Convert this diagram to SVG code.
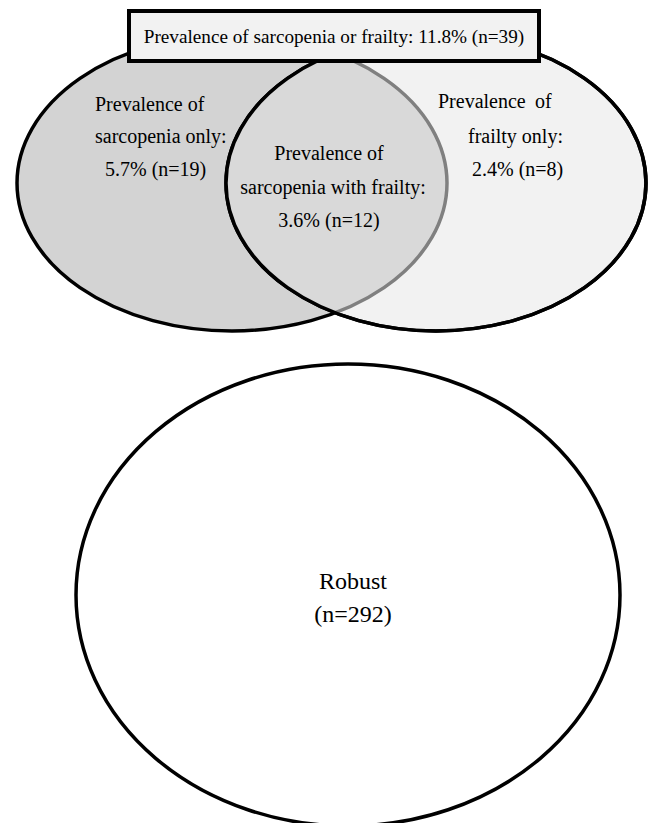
<svg xmlns="http://www.w3.org/2000/svg" width="648" height="823" viewBox="0 0 648 823">
  <style>
    text { font-family: 'Liberation Serif', 'DejaVu Serif', serif; fill: #000; }
    .s20 { font-size: 20px; }
    .edge { stroke: #000; stroke-width: 3.5; }
  </style>
  <defs>
    <clipPath id="clipRight">
      <ellipse cx="436" cy="183" rx="210" ry="148"/>
    </clipPath>
  </defs>
  <rect width="648" height="823" fill="#fff"/>

  <g id="sarcopenia">
    <ellipse cx="232" cy="183" rx="215" ry="148" fill="#d3d3d3" class="edge"/>
  </g>
  <g id="frailty">
    <ellipse cx="436" cy="183" rx="210" ry="148" fill="#f2f2f2" class="edge"/>
  </g>
  <g id="overlap">
    <ellipse cx="232" cy="183" rx="215" ry="148" fill="#d9d9d9" stroke="#808080" stroke-width="3.5" clip-path="url(#clipRight)"/>
    <ellipse cx="436" cy="183" rx="210" ry="148" fill="none" class="edge"/>
  </g>

  <g id="sarcopenia-only-label" class="s20" font-family="Liberation Serif, serif">
    <text x="95" y="111">Prevalence of</text>
    <text x="95" y="143">sarcopenia only:</text>
    <text x="105" y="176">5.7% (n=19)</text>
  </g>
  <g id="both-label" class="s20" text-anchor="middle" font-family="Liberation Serif, serif">
    <text x="329" y="160">Prevalence of</text>
    <text x="333" y="194">sarcopenia with frailty:</text>
    <text x="329" y="227">3.6% (n=12)</text>
  </g>
  <g id="frailty-only-label" class="s20" font-family="Liberation Serif, serif">
    <text x="438" y="108">Prevalence</text>
    <text x="535" y="108">of</text>
    <text x="468" y="143">frailty only:</text>
    <text x="472" y="176">2.4% (n=8)</text>
  </g>

  <g id="total-box">
    <rect x="129" y="11" width="410" height="50" fill="#f2f2f2" stroke="#000" stroke-width="4"/>
    <text x="334" y="43" font-size="19.2" text-anchor="middle">Prevalence of sarcopenia or frailty: 11.8% (n=39)</text>
  </g>

  <g id="robust">
    <ellipse cx="348" cy="595" rx="272" ry="231" fill="#fff" stroke="#000" stroke-width="3.5"/>
    <text x="353" y="589" font-size="24" text-anchor="middle">Robust</text>
    <text x="353" y="622" font-size="24" text-anchor="middle">(n=292)</text>
  </g>

  <g id="connectors"></g>
</svg>
